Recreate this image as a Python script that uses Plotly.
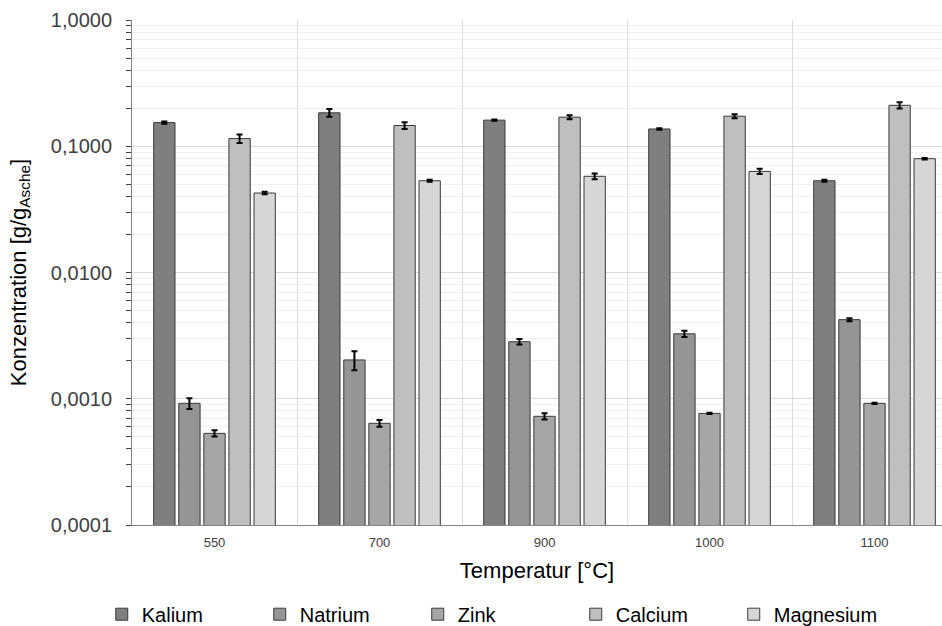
import plotly.graph_objects as go

categories = ["550", "700", "900", "1000", "1100"]

kalium = [0.154, 0.184, 0.161, 0.137, 0.0533]
natrium = [0.00092, 0.00203, 0.00283, 0.00327, 0.00423]
zink = [0.000532, 0.000639, 0.000726, 0.000766, 0.00092]
calcium = [0.115, 0.146, 0.170, 0.173, 0.211]
magnesium = [0.0426, 0.0533, 0.0578, 0.0632, 0.0797]

kalium_err = [0.003, 0.013, 0.002, 0.002, 0.001]
natrium_err = [0.00009, 0.00035, 0.00014, 0.00018, 0.00012]
zink_err = [0.00003, 0.00004, 0.00004, 0.00001, 0.00001]
calcium_err = [0.009, 0.009, 0.006, 0.006, 0.012]
magnesium_err = [0.001, 0.001, 0.003, 0.003, 0.001]

series = [
    ("Kalium", kalium, kalium_err, "#7f7f7f"),
    ("Natrium", natrium, natrium_err, "#959595"),
    ("Zink", zink, zink_err, "#a6a6a6"),
    ("Calcium", calcium, calcium_err, "#bfbfbf"),
    ("Magnesium", magnesium, magnesium_err, "#d6d6d6"),
]

y_tickvals = [0.0001, 0.001, 0.01, 0.1, 1.0]
y_ticktext = ["0,0001", "0,0010", "0,0100", "0,1000", "1,0000"]

FONT = "Liberation Sans, Arial, sans-serif"

fig = go.Figure()
for name, vals, errs, color in series:
    fig.add_trace(go.Bar(
        name=name, x=categories, y=vals,
        marker=dict(color=color, line=dict(color="#3a3a3a", width=1)),
        error_y=dict(type="data", array=errs, visible=True,
                     color="#000000", thickness=2, width=3),
    ))

minor_vals = [m * 10 ** e for e in range(-4, 0) for m in range(2, 10)]

fig.update_layout(
    width=942, height=626,
    margin=dict(l=132, r=0, t=20, b=101),
    paper_bgcolor="white", plot_bgcolor="white",
    barmode="group", bargap=0.24, bargroupgap=0.15,
    font=dict(family=FONT, color="#000000"),
    showlegend=True,
    legend=dict(orientation="h", xref="container", x=0.108, xanchor="left",
                yref="container", y=0.05, yanchor="top",
                font=dict(size=20, family=FONT),
                entrywidth=113, entrywidthmode="pixels",
                itemwidth=30, traceorder="normal",
                bgcolor="rgba(0,0,0,0)"),
)

fig.update_xaxes(
    type="category", range=[-0.5, 4.409],
    tickson="boundaries", ticks="", showgrid=True, gridcolor="#dedede", gridwidth=1,
    showline=True, linecolor="#868686", linewidth=1,
    ticklabelstandoff=5,
    tickfont=dict(size=13, family=FONT, color="#404040"),
    title=dict(text="Temperatur [°C]", font=dict(size=22, family=FONT), standoff=14),
    zeroline=False,
)

fig.update_yaxes(
    type="log", range=[-4, 0],
    tickvals=y_tickvals, ticktext=y_ticktext,
    ticks="outside", ticklen=5, tickcolor="#404040", tickwidth=1,
    ticklabelstandoff=10,
    tickfont=dict(size=20, family=FONT, color="#404040"),
    showgrid=True, gridcolor="#d9d9d9", gridwidth=1,
    minor=dict(tickvals=minor_vals, ticks="outside", ticklen=5, tickcolor="#404040",
               showgrid=True, gridcolor="#f0f0f0", gridwidth=1),
    showline=True, linecolor="#868686", linewidth=1,
    title=dict(text="Konzentration [g/g<sub>Asche</sub>]", font=dict(size=22, family=FONT), standoff=18),
    zeroline=False,
)

fig.write_html("out.html")
